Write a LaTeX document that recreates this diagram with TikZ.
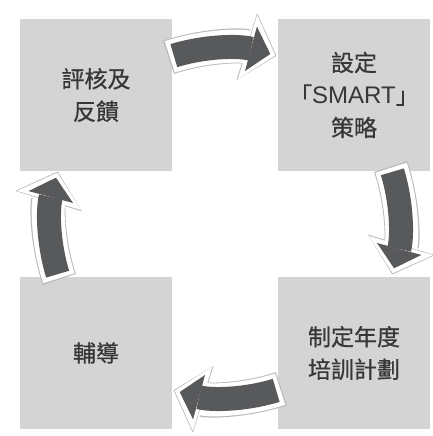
\documentclass[tikz,border=0pt]{standalone}
\usepackage{fontspec}
\newfontfamily\cjk{Noto Sans CJK TC}[FakeBold=0.7]
\newfontfamily\latin{Liberation Sans}
\usetikzlibrary{arrows.meta}
\definecolor{boxgray}{RGB}{212,212,212}
\definecolor{arrowgray}{RGB}{88,89,91}
\definecolor{textgray}{RGB}{55,55,55}
\definecolor{edgegray}{RGB}{185,185,185}
\tikzset{
  stage/.style={fill=boxgray, minimum size=152pt, inner sep=0pt, text=textgray,
    align=center, font=\cjk\fontsize{23}{32.5}\selectfont},
  cycleedge/.style={draw=edgegray, line width=35pt,
    -{Triangle[width=70pt,length=31pt,line width=0pt]}},
  cyclerim/.style={draw=white, line width=33pt,
    -{Triangle[width=67pt,length=29pt,line width=0pt]}},
  cyclebody/.style={draw=arrowgray, line width=24pt,
    -{Triangle[width=46pt,length=20pt,line width=0pt]}}
}
\begin{document}
\begin{tikzpicture}[x=1pt,y=1pt]
      \useasboundingbox (0,0) rectangle (432,436);
      \draw
        (96,341) node[stage] (review){評核及\\反饋}
        (354,341) node[stage] (strategy){設定\\「{\latin\fontsize{24}{32.5}\selectfont SMART}」\\策略}
        (354,83) node[stage] (plan){制定年度\\培訓計劃}
        (96,83) node[stage] (coach){輔導};
      \coordinate (hub) at (225,213);
      \begin{scope}
        \foreach \a in {90,0,-90,180} {
          \draw[cycleedge] ([shift={(\a+18.8:175)}]hub) arc[start angle=\a+18.8, end angle=\a-17.1, radius=175];
          \draw[cyclerim] ([shift={(\a+18.4:175)}]hub) arc[start angle=\a+18.4, end angle=\a-16.7, radius=175];
          \draw[cyclebody] ([shift={(\a+17:175)}]hub) arc[start angle=\a+17, end angle=\a-15, radius=175];
        }
      \end{scope}
    \end{tikzpicture}
\end{document}
